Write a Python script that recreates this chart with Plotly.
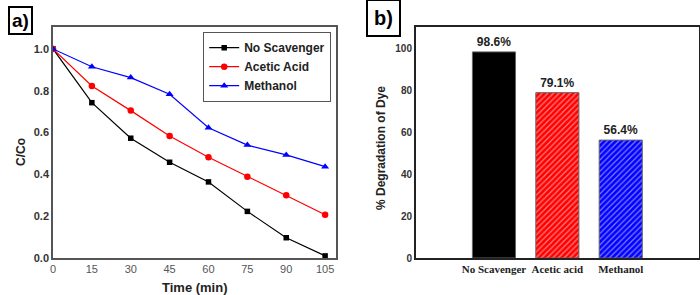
import plotly.graph_objects as go

time_min = [0, 15, 30, 45, 60, 75, 90, 105]
no_scavenger = [1.0, 0.743, 0.573, 0.458, 0.364, 0.223, 0.097, 0.01]
acetic_acid = [1.0, 0.823, 0.705, 0.584, 0.482, 0.389, 0.30, 0.207]
methanol = [1.0, 0.915, 0.863, 0.783, 0.623, 0.54, 0.493, 0.437]

bar_categories = ["No Scavenger", "Acetic acid", "Methanol"]
degradation = [98.6, 79.1, 56.4]
bar_labels = ["98.6%", "79.1%", "56.4%"]

fig = go.Figure()

fig.add_trace(go.Scatter(x=time_min, y=no_scavenger, name="<b>No Scavenger</b>", mode="lines+markers",
                         line=dict(color="black", width=1.2),
                         marker=dict(symbol="square", size=5.5, color="black"),
                         xaxis="x", yaxis="y"))
fig.add_trace(go.Scatter(x=time_min, y=acetic_acid, name="<b>Acetic Acid</b>", mode="lines+markers",
                         line=dict(color="#ff0000", width=1.2),
                         marker=dict(symbol="circle", size=6.5, color="#ff0000"),
                         xaxis="x", yaxis="y"))
fig.add_trace(go.Scatter(x=time_min, y=methanol, name="<b>Methanol</b>", mode="lines+markers",
                         line=dict(color="#0000ff", width=1.2),
                         marker=dict(symbol="triangle-up", size=7, color="#0000ff"),
                         xaxis="x", yaxis="y"))

fig.add_trace(go.Bar(x=bar_categories, y=degradation, text=["<b>" + t + "</b>" for t in bar_labels],
                     textposition="outside",
                     textfont=dict(family="Arial, Liberation Sans", size=12, color="#222"),
                     cliponaxis=False,
                     width=0.68, showlegend=False,
                     marker=dict(color=["#000000", "#ff0000", "#0000ff"],
                                 line=dict(color="#666", width=1),
                                 pattern=dict(shape=["", "/", "/"],
                                              fgcolor=["#000000", "#8b0000", "#00008b"],
                                              fillmode="overlay", size=4, solidity=0.3)),
                     xaxis="x2", yaxis="y2"))

ydom = [37 / 295, 268 / 295]

fig.update_layout(
    width=700, height=295,
    margin=dict(l=0, r=0, t=0, b=0, autoexpand=False),
    paper_bgcolor="white", plot_bgcolor="white",
    font=dict(family="Arial, Liberation Sans", color="#222"),
    xaxis=dict(domain=[53 / 700, 336 / 700], range=[0, 109.2], tickvals=time_min,
               showgrid=False, zeroline=False, showline=True, mirror=True, automargin=False,
               linecolor="#555", linewidth=1.5, ticks="",
               tickfont=dict(size=11, color="#555")),
    yaxis=dict(domain=ydom, range=[0, 1.105], tickvals=[0, 0.2, 0.4, 0.6, 0.8, 1.0],
               ticktext=["<b>0.0</b>", "<b>0.2</b>", "<b>0.4</b>", "<b>0.6</b>", "<b>0.8</b>", "<b>1.0</b>"],
               showgrid=False, zeroline=False, showline=True, mirror=True, automargin=False,
               linecolor="#555", linewidth=1.5, ticks="",
               tickfont=dict(size=11, color="#333")),
    xaxis2=dict(domain=[416 / 700, 698.7 / 700], range=[-1.23, 3.23], anchor="y2",
                showgrid=False, zeroline=False, showline=True, mirror=True, automargin=False,
                linecolor="#222", linewidth=2, ticks="",
                tickfont=dict(family="Liberation Serif, Times New Roman", size=11, color="#222"),
                tickvals=[0, 1, 2], ticktext=["<b>" + c + "</b>" for c in bar_categories]),
    yaxis2=dict(domain=ydom, range=[0, 110.5], anchor="x2", tickvals=[0, 20, 40, 60, 80, 100],
                ticktext=["<b>%d</b>" % v for v in [0, 20, 40, 60, 80, 100]],
                showgrid=False, zeroline=False, showline=True, mirror=True, automargin=False,
                linecolor="#222", linewidth=2, ticks="",
                tickfont=dict(size=10, color="#333")),
    legend=dict(x=203 / 700, y=(295 - 32) / 295, xanchor="left", yanchor="top",
                bordercolor="#555", borderwidth=1.2, bgcolor="white",
                font=dict(size=12, color="#222", family="Arial, Liberation Sans"),
                tracegroupgap=0, itemwidth=30),
    annotations=[
        dict(text="<b>a)</b>", x=20 / 700, y=(295 - 21) / 295, xref="paper", yref="paper",
             showarrow=False, font=dict(size=19, color="black"),
             bordercolor="black", borderwidth=2, borderpad=2, bgcolor="white",
             xanchor="center", yanchor="middle"),
        dict(text="<b>b)</b>", x=383.5 / 700, y=(295 - 18) / 295, xref="paper", yref="paper",
             showarrow=False, font=dict(size=20, color="black"),
             bordercolor="black", borderwidth=2, borderpad=6, bgcolor="white",
             xanchor="center", yanchor="middle"),
        dict(text="<b>Time (min)</b>", x=195 / 700, y=(295 - 287) / 295, xref="paper", yref="paper",
             showarrow=False, font=dict(size=13, color="#222"), xanchor="center", yanchor="middle"),
        dict(text="<b>C/Co</b>", x=21 / 700, y=(295 - 152) / 295, xref="paper", yref="paper",
             showarrow=False, font=dict(size=12, color="#222"), textangle=-90,
             xanchor="center", yanchor="middle"),
        dict(text="<b>% Degradation of Dye</b>", x=381 / 700, y=(295 - 148) / 295, xref="paper", yref="paper",
             showarrow=False, font=dict(size=12, color="#222"), textangle=-90,
             xanchor="center", yanchor="middle"),
    ],
)

fig.write_html("out.html", config={"displayModeBar": False},
               post_script="document.body.style.margin='0';document.body.style.overflow='hidden';")
